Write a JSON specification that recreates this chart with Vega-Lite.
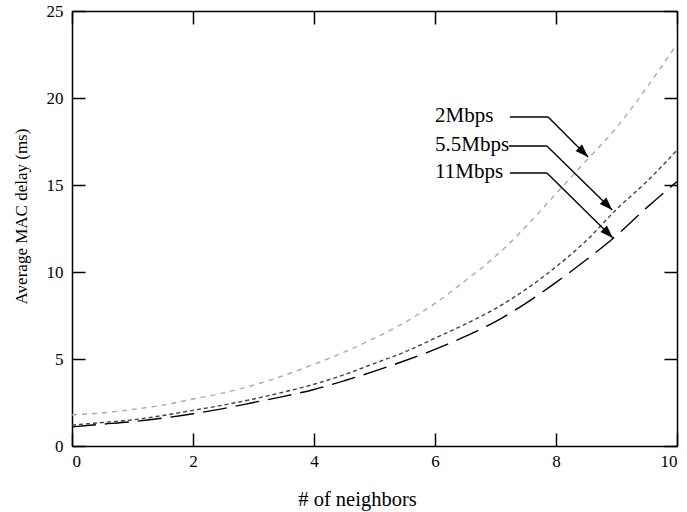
{
  "$schema": "https://vega.github.io/schema/vega-lite/v6.json",
  "width": 605,
  "height": 435,
  "autosize": {"type": "none"},
  "padding": {"left": 72, "top": 11, "right": 10, "bottom": 66},
  "background": "white",
  "config": {
    "view": {"stroke": null},
    "font": "Liberation Serif",
    "axis": {
      "grid": false,
      "domainColor": "black",
      "domainWidth": 1.5,
      "tickColor": "black",
      "tickWidth": 1.5,
      "tickSize": -13,
      "labelFont": "Liberation Serif",
      "labelFontSize": 17,
      "labelColor": "black",
      "titleFont": "Liberation Serif",
      "titleFontWeight": "normal",
      "titleColor": "black"
    }
  },
  "datasets": {
    "delay": [
      {"neighbors": 0, "rate": "2Mbps", "delay": 1.8},
      {"neighbors": 0.5, "rate": "2Mbps", "delay": 1.9},
      {"neighbors": 1, "rate": "2Mbps", "delay": 2.1},
      {"neighbors": 1.5, "rate": "2Mbps", "delay": 2.35},
      {"neighbors": 2, "rate": "2Mbps", "delay": 2.7},
      {"neighbors": 2.5, "rate": "2Mbps", "delay": 3.05},
      {"neighbors": 3, "rate": "2Mbps", "delay": 3.5},
      {"neighbors": 3.5, "rate": "2Mbps", "delay": 4.05},
      {"neighbors": 4, "rate": "2Mbps", "delay": 4.7},
      {"neighbors": 4.5, "rate": "2Mbps", "delay": 5.4},
      {"neighbors": 5, "rate": "2Mbps", "delay": 6.2},
      {"neighbors": 5.5, "rate": "2Mbps", "delay": 7.1},
      {"neighbors": 6, "rate": "2Mbps", "delay": 8.2},
      {"neighbors": 6.5, "rate": "2Mbps", "delay": 9.5},
      {"neighbors": 7, "rate": "2Mbps", "delay": 10.9},
      {"neighbors": 7.5, "rate": "2Mbps", "delay": 12.6},
      {"neighbors": 8, "rate": "2Mbps", "delay": 14.5},
      {"neighbors": 8.5, "rate": "2Mbps", "delay": 16.4},
      {"neighbors": 9, "rate": "2Mbps", "delay": 18.3},
      {"neighbors": 9.5, "rate": "2Mbps", "delay": 20.6},
      {"neighbors": 10, "rate": "2Mbps", "delay": 23.1},
      {"neighbors": 0, "rate": "5.5Mbps", "delay": 1.2},
      {"neighbors": 0.5, "rate": "5.5Mbps", "delay": 1.35},
      {"neighbors": 1, "rate": "5.5Mbps", "delay": 1.5},
      {"neighbors": 1.5, "rate": "5.5Mbps", "delay": 1.75},
      {"neighbors": 2, "rate": "5.5Mbps", "delay": 2.05},
      {"neighbors": 2.5, "rate": "5.5Mbps", "delay": 2.35},
      {"neighbors": 3, "rate": "5.5Mbps", "delay": 2.7},
      {"neighbors": 3.5, "rate": "5.5Mbps", "delay": 3.1},
      {"neighbors": 4, "rate": "5.5Mbps", "delay": 3.55},
      {"neighbors": 4.5, "rate": "5.5Mbps", "delay": 4.1},
      {"neighbors": 5, "rate": "5.5Mbps", "delay": 4.75},
      {"neighbors": 5.5, "rate": "5.5Mbps", "delay": 5.4},
      {"neighbors": 6, "rate": "5.5Mbps", "delay": 6.2},
      {"neighbors": 6.5, "rate": "5.5Mbps", "delay": 7.0},
      {"neighbors": 7, "rate": "5.5Mbps", "delay": 7.9},
      {"neighbors": 7.5, "rate": "5.5Mbps", "delay": 9.0},
      {"neighbors": 8, "rate": "5.5Mbps", "delay": 10.3},
      {"neighbors": 8.5, "rate": "5.5Mbps", "delay": 11.8},
      {"neighbors": 9, "rate": "5.5Mbps", "delay": 13.6},
      {"neighbors": 9.5, "rate": "5.5Mbps", "delay": 15.2},
      {"neighbors": 10, "rate": "5.5Mbps", "delay": 17.0},
      {"neighbors": 0, "rate": "11Mbps", "delay": 1.1},
      {"neighbors": 0.5, "rate": "11Mbps", "delay": 1.25},
      {"neighbors": 1, "rate": "11Mbps", "delay": 1.4},
      {"neighbors": 1.5, "rate": "11Mbps", "delay": 1.6},
      {"neighbors": 2, "rate": "11Mbps", "delay": 1.85},
      {"neighbors": 2.5, "rate": "11Mbps", "delay": 2.15},
      {"neighbors": 3, "rate": "11Mbps", "delay": 2.5},
      {"neighbors": 3.5, "rate": "11Mbps", "delay": 2.85},
      {"neighbors": 4, "rate": "11Mbps", "delay": 3.25},
      {"neighbors": 4.5, "rate": "11Mbps", "delay": 3.75},
      {"neighbors": 5, "rate": "11Mbps", "delay": 4.3},
      {"neighbors": 5.5, "rate": "11Mbps", "delay": 4.9},
      {"neighbors": 6, "rate": "11Mbps", "delay": 5.55},
      {"neighbors": 6.5, "rate": "11Mbps", "delay": 6.3},
      {"neighbors": 7, "rate": "11Mbps", "delay": 7.15},
      {"neighbors": 7.5, "rate": "11Mbps", "delay": 8.2},
      {"neighbors": 8, "rate": "11Mbps", "delay": 9.4},
      {"neighbors": 8.5, "rate": "11Mbps", "delay": 10.7},
      {"neighbors": 9, "rate": "11Mbps", "delay": 12.1},
      {"neighbors": 9.5, "rate": "11Mbps", "delay": 13.7},
      {"neighbors": 10, "rate": "11Mbps", "delay": 15.2}
    ],
    "leaders": [
      {"rate": "2Mbps", "x": 7.24, "y": 18.91, "x2": 7.87, "y2": 18.91},
      {"rate": "2Mbps", "x": 7.87, "y": 18.91, "x2": 8.53, "y2": 16.61},
      {"rate": "5.5Mbps", "x": 7.22, "y": 17.24, "x2": 7.85, "y2": 17.24},
      {"rate": "5.5Mbps", "x": 7.85, "y": 17.24, "x2": 8.93, "y2": 13.56},
      {"rate": "11Mbps", "x": 7.24, "y": 15.69, "x2": 7.85, "y2": 15.69},
      {"rate": "11Mbps", "x": 7.85, "y": 15.69, "x2": 8.94, "y2": 11.95}
    ],
    "tips": [
      {"rate": "2Mbps", "x": 8.53, "y": 16.61},
      {"rate": "5.5Mbps", "x": 8.93, "y": 13.56},
      {"rate": "11Mbps", "x": 8.94, "y": 11.95}
    ],
    "labels": [
      {"rate": "2Mbps", "x": 6.0, "y": 18.91},
      {"rate": "5.5Mbps", "x": 6.0, "y": 17.24},
      {"rate": "11Mbps", "x": 6.0, "y": 15.69}
    ]
  },
  "layer": [
    {
      "data": {"name": "delay"},
      "mark": {"type": "line", "strokeWidth": 1.4, "interpolate": "monotone"},
      "encoding": {
        "x": {
          "field": "neighbors",
          "type": "quantitative",
          "scale": {"domain": [0, 10], "nice": false},
          "axis": {
            "orient": "bottom",
            "values": [0, 2, 4, 6, 8, 10],
            "title": "# of neighbors",
            "titleFontSize": 20.5,
            "labelPadding": 20,
            "titleX": 285,
            "titleY": 59,
            "titleBaseline": "alphabetic"
          }
        },
        "y": {
          "field": "delay",
          "type": "quantitative",
          "scale": {"domain": [0, 25], "nice": false},
          "axis": {
            "orient": "left",
            "values": [0, 5, 10, 15, 20, 25],
            "title": "Average MAC delay (ms)",
            "titleFontSize": 17,
            "labelPadding": 22,
            "titleX": -42,
            "titleY": 205
          }
        },
        "color": {
          "field": "rate",
          "type": "nominal",
          "scale": {"domain": ["2Mbps", "5.5Mbps", "11Mbps"], "range": ["#aaaaaa", "#444444", "#000000"]},
          "legend": null
        },
        "strokeDash": {
          "field": "rate",
          "type": "nominal",
          "scale": {"domain": ["2Mbps", "5.5Mbps", "11Mbps"], "range": [[5, 5], [4, 3], [24, 9]]},
          "legend": null
        }
      }
    },
    {
      "data": {"name": "leaders"},
      "mark": {"type": "rule", "color": "black", "strokeWidth": 1.4},
      "encoding": {
        "x": {
          "field": "x",
          "type": "quantitative",
          "axis": {"orient": "top", "values": [0, 2, 4, 6, 8, 10], "labels": false, "title": null}
        },
        "x2": {"field": "x2"},
        "y": {
          "field": "y",
          "type": "quantitative",
          "axis": {"orient": "right", "values": [0, 5, 10, 15, 20, 25], "labels": false, "title": null}
        },
        "y2": {"field": "y2"}
      }
    },
    {
      "data": {"name": "tips"},
      "mark": {
        "type": "point",
        "shape": "M0,0L-1,-0.35L-1,0.35Z",
        "filled": true,
        "color": "black",
        "opacity": 1,
        "size": 680,
        "angle": 45
      },
      "encoding": {
        "x": {"field": "x", "type": "quantitative", "axis": null},
        "y": {"field": "y", "type": "quantitative", "axis": null}
      }
    },
    {
      "data": {"name": "labels"},
      "mark": {"type": "text", "align": "left", "baseline": "middle", "font": "Liberation Serif", "fontSize": 21, "color": "black", "dy": -1},
      "encoding": {
        "x": {"field": "x", "type": "quantitative", "axis": null},
        "y": {"field": "y", "type": "quantitative", "axis": null},
        "text": {"field": "rate"}
      }
    }
  ],
  "resolve": {"axis": {"x": "independent", "y": "independent"}}
}
